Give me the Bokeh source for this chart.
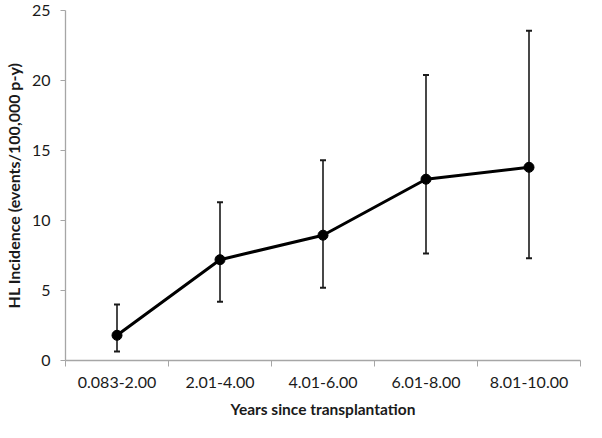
from bokeh.plotting import figure
from bokeh.models import ColumnDataSource, FixedTicker, Whisker, Range1d
from bokeh.embed import file_html
from bokeh.resources import INLINE

categories = ["0.083-2.00", "2.01-4.00", "4.01-6.00", "6.01-8.00", "8.01-10.00"]
incidence = [1.8, 7.2, 8.95, 12.95, 13.8]
lower = [0.65, 4.2, 5.2, 7.65, 7.3]
upper = [4.0, 11.3, 14.3, 20.4, 23.55]
y_ticks = [0, 5, 10, 15, 20, 25]

xs = [i + 0.5 for i in range(len(categories))]
src = ColumnDataSource(data=dict(x=xs, y=incidence, lo=lower, hi=upper))

FONT = "Lato"
p = figure(width=586, height=422, output_backend="svg", toolbar_location=None,
           x_range=Range1d(0, len(categories)), y_range=Range1d(0, 25),
           min_border_left=62, min_border_right=6, min_border_top=10, min_border_bottom=62)
p.outline_line_color = None
p.xgrid.grid_line_color = None
p.ygrid.grid_line_color = None

w = Whisker(source=src, base="x", lower="lo", upper="hi", line_color="#1a1a1a", line_width=1.6)
w.upper_head.size = 6
w.lower_head.size = 6
w.upper_head.line_width = 2
w.lower_head.line_width = 2
w.upper_head.line_color = "#1a1a1a"
w.lower_head.line_color = "#1a1a1a"
p.add_layout(w)

p.line("x", "y", source=src, line_color="black", line_width=3)
p.scatter("x", "y", source=src, size=10, fill_color="black", line_color="black")

# x axis
p.xaxis.ticker = FixedTicker(ticks=xs, minor_ticks=list(range(len(categories) + 1)))
p.xaxis.major_label_overrides = {x: c for x, c in zip(xs, categories)}
p.xaxis.major_tick_line_color = None
p.xaxis.major_tick_out = 6
p.xaxis.major_tick_in = 0
p.xaxis.minor_tick_line_color = "#a6a6a6"
p.xaxis.minor_tick_out = 6
p.xaxis.minor_tick_in = 0
p.xaxis.axis_line_color = "#a6a6a6"
p.xaxis.axis_line_width = 1.3
p.xaxis.major_label_text_font = FONT
p.xaxis.major_label_text_font_size = "16px"
p.xaxis.major_label_text_color = "#1a1a1a"
p.xaxis.major_label_standoff = 10
p.xaxis.axis_label = "Years since transplantation"
p.xaxis.axis_label_text_font = FONT
p.xaxis.axis_label_text_font_style = "bold"
p.xaxis.axis_label_text_font_size = "15.5px"
p.xaxis.axis_label_text_color = "#1a1a1a"
p.xaxis.axis_label_standoff = 9

# y axis
p.yaxis.ticker = FixedTicker(ticks=y_ticks)
p.yaxis.minor_tick_line_color = None
p.yaxis.major_tick_line_color = "#a6a6a6"
p.yaxis.major_tick_out = 5
p.yaxis.major_tick_in = 0
p.yaxis.axis_line_color = "#a6a6a6"
p.yaxis.axis_line_width = 1.3
p.yaxis.major_label_text_font = FONT
p.yaxis.major_label_text_font_size = "16px"
p.yaxis.major_label_text_color = "#1a1a1a"
p.yaxis.major_label_standoff = 10
p.yaxis.axis_label = "HL Incidence (events/100,000 p-y)"
p.yaxis.axis_label_text_font = FONT
p.yaxis.axis_label_text_font_style = "bold"
p.yaxis.axis_label_text_font_size = "16px"
p.yaxis.axis_label_text_color = "#1a1a1a"
p.yaxis.axis_label_standoff = 6

open("out.html", "w").write(file_html(p, INLINE))
